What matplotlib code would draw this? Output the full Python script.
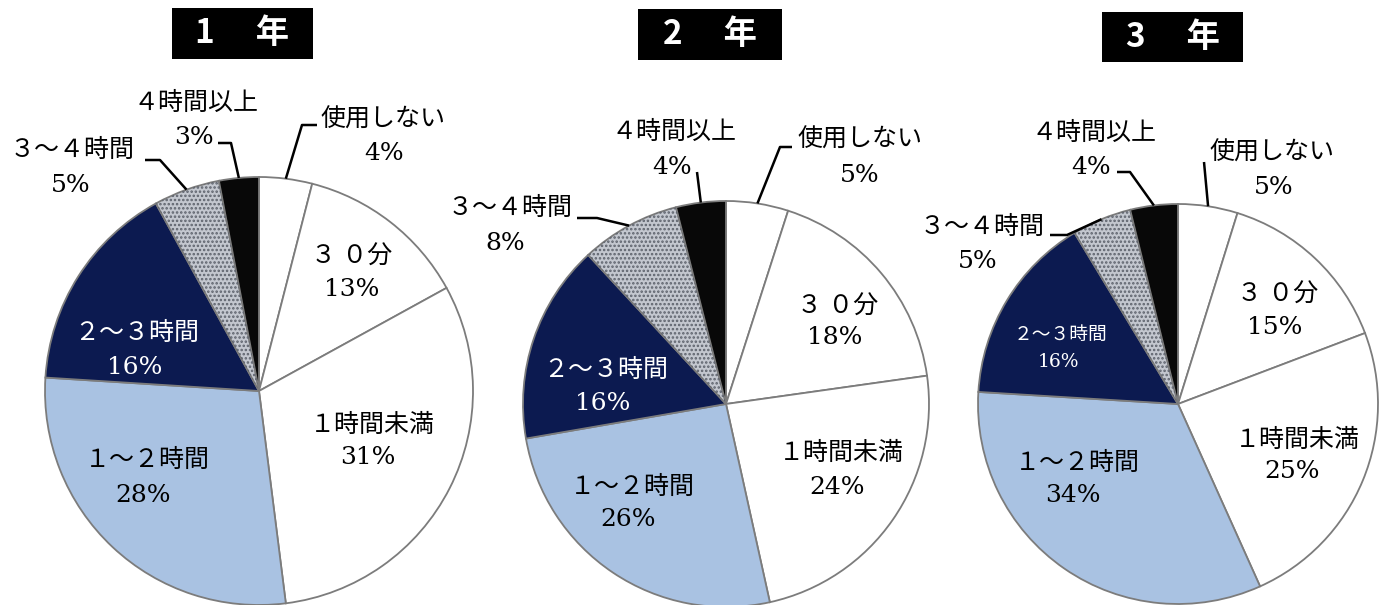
import numpy as np
import matplotlib.pyplot as plt
from matplotlib.patches import Wedge, Rectangle

# スマホ等の使用時間（学年別）
categories = ['使用しない', '３ ０分', '１時間未満', '１～２時間', '２～３時間', '３～４時間', '４時間以上']
grades = ['1', '2', '3']
pct_1 = [4, 13, 31, 28, 16, 5, 3]
pct_2 = [5, 18, 24, 26, 16, 8, 4]
pct_3 = [5, 15, 25, 34, 16, 5, 4]

colors = ['white', 'white', 'white', '#a9c2e2', '#0c1a50', '#c3c7cf', '#080808']
W, H = 1386, 605

plt.rcParams['font.family'] = ['Liberation Serif', 'Noto Sans CJK JP']
plt.rcParams['hatch.linewidth'] = 1.2

# layout in pixels (x from left, y from top)
pies = [
    dict(vals=pct_1, cx=259, cy=391, r=214, box=(172, 8, 141, 51),
         txt=[(383, 120, 384, 153), (352, 257, 352, 290), (372, 425, 368, 458),
              (147, 460, 143, 495), (137, 333, 135, 368), (72, 150, 71, 185),
              (196, 103, 194, 137)],
         lead={0: [(317, 125), (302, 125)], 5: [(145, 160), (160, 160)],
               6: [(218, 143), (231, 143)]}, small=False),
    dict(vals=pct_2, cx=726, cy=404, r=203, box=(638, 9, 144, 51),
         txt=[(860, 140, 860, 175), (838, 307, 835, 338), (841, 453, 837, 487),
              (632, 487, 628, 520), (606, 370, 603, 403), (510, 208, 505, 243),
              (674, 132, 672, 167)],
         lead={0: [(792, 147), (780, 147)], 5: [(577, 218), (597, 218)],
               6: [(697, 172)]}, small=False),
    dict(vals=pct_3, cx=1178, cy=404, r=200, box=(1102, 12, 141, 50),
         txt=[(1272, 153, 1274, 188), (1278, 295, 1275, 328), (1297, 440, 1292, 472),
              (1077, 463, 1073, 495), (1061, 335, 1059, 362), (982, 227, 978, 262),
              (1094, 133, 1091, 167)],
         lead={0: [(1204, 162)], 5: [(1050, 235), (1067, 235)],
               6: [(1117, 172), (1130, 172)]}, small=True),
]

fig = plt.figure(figsize=(W / 100, H / 100), dpi=100)
ax = fig.add_axes([0, 0, 1, 1])

for p, g in zip(pies, grades):
    cx, cy, r = p['cx'], H - p['cy'], p['r']
    wedges, _ = ax.pie(p['vals'], colors=colors, startangle=90, counterclock=False,
                       center=(cx, cy), radius=r,
                       wedgeprops=dict(edgecolor='#7c7c7c', linewidth=1.3))
    # speckled texture on 3~4 hours
    w = wedges[5]
    ax.add_patch(Wedge((cx, cy), r, w.theta1, w.theta2, facecolor='none',
                       edgecolor='#5d626c', linewidth=0, hatch='....'))

    for i, (lx, ly, px, py) in enumerate(p['txt']):
        col = 'white' if i == 4 else 'black'
        small = p['small'] and i == 4
        ax.text(lx, H - ly, categories[i], color=col, fontsize=13.5 if small else 18,
                ha='center', va='center')
        ax.text(px, H - py, f"{p['vals'][i]}%", color=col, fontsize=13.5 if small else 18,
                family=['DejaVu Serif'], ha='center', va='center')

    # leader lines to the small slices
    for i, pts in p['lead'].items():
        w = wedges[i]
        a = np.deg2rad((w.theta1 + w.theta2) / 2)
        xs = [x for x, _ in pts] + [cx + r * np.cos(a)]
        ys = [H - y for _, y in pts] + [cy + r * np.sin(a)]
        ax.plot(xs, ys, color='black', linewidth=1.8, solid_capstyle='butt')

    bx, by, bw, bh = p['box']
    ax.add_patch(Rectangle((bx, H - by - bh), bw, bh, facecolor='black', edgecolor='none'))
    ax.text(bx + bw / 2, H - by - bh / 2, g + '　 年', color='white', fontsize=24,
            fontweight='bold', family=['Noto Sans CJK JP'], ha='center', va='center')

ax.set_xlim(0, W)
ax.set_ylim(0, H)
ax.axis('off')

fig.savefig('out.png', dpi=100, facecolor='white')
